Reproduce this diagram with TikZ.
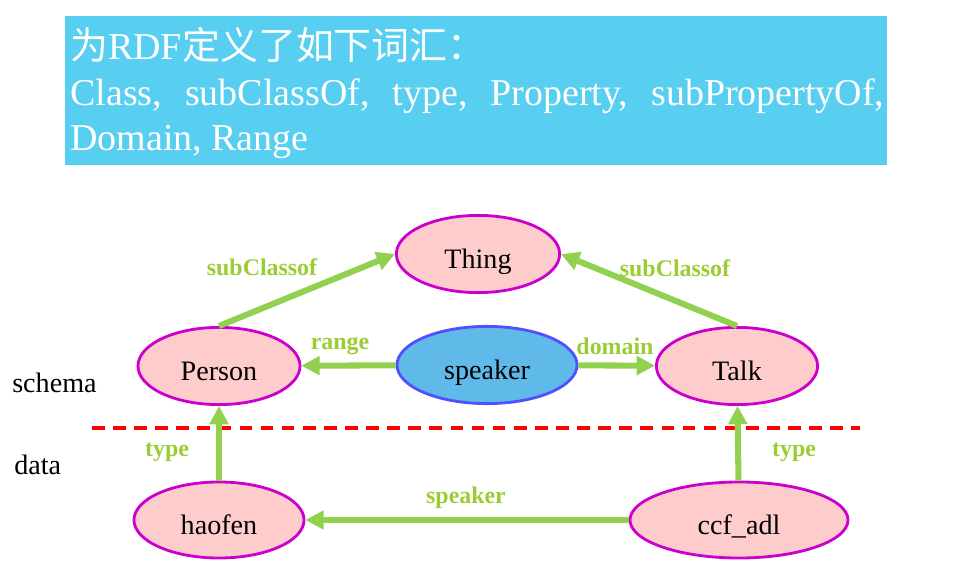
\documentclass[tikz,border=0pt]{standalone}
\usepackage{fontspec}
\setmainfont{Liberation Serif}
\newfontfamily\cjk{Noto Sans CJK SC}
\usetikzlibrary{shapes.geometric,arrows.meta}
\definecolor{BoxBlue}{RGB}{88,206,240}
\definecolor{ClsPink}{RGB}{255,204,204}
\definecolor{ClsEdge}{RGB}{204,0,204}
\definecolor{PropBlue}{RGB}{95,186,234}
\definecolor{PropEdge}{RGB}{80,80,255}
\definecolor{ArrGreen}{RGB}{146,208,80}
\definecolor{LblGreen}{RGB}{154,205,50}
\definecolor{LineRed}{RGB}{255,0,0}

\begin{document}
\begin{tikzpicture}[x=0.025cm,y=-0.025cm,
  cls/.style={ellipse,draw=ClsEdge,fill=ClsPink,line width=2pt,inner sep=0pt,
              text height=20pt,text depth=0pt,
              minimum height=1.93cm,font=\fontsize{20}{24}\selectfont},
  prop/.style={cls,draw=PropEdge,fill=PropBlue},
  arr/.style={-{Triangle[length=13pt,width=13pt]},line width=4.3pt,ArrGreen},
  lbl/.style={text=LblGreen,inner sep=1pt,font=\fontsize{17}{20}\selectfont\bfseries},
  ttl/.style={anchor=base west,text=white,inner sep=0pt,font=\fontsize{27}{32}\selectfont},
  side/.style={anchor=base west,inner sep=0pt,font=\fontsize{20}{24}\selectfont},
]
\useasboundingbox (0,0) rectangle (958,570);
\node[fill=BoxBlue,minimum width=20.55cm,minimum height=3.725cm,inner sep=0pt] (vocab) at (476,90.5) {};
\node[ttl] (line1) at (70,60) {{\cjk 为}RDF{\cjk 定义了如下词汇：}};
\node[ttl] (line2) at (70,106)
  {\makebox[20.35cm][s]{Class, subClassOf, type, Property, subPropertyOf,}};
\node[ttl] (line3) at (70,151) {Domain, Range};

\node[cls,minimum width=4.08cm] (thing) at (478,254) {Thing};
\node[cls,minimum width=4.05cm] (person) at (219,366) {Person};
\node[prop,minimum width=4.5cm] (speaker) at (487,365) {speaker};
\node[cls,minimum width=4.03cm] (talk) at (737,366) {Talk};
\node[cls,minimum width=4.25cm,minimum height=1.9cm] (haofen) at (219,520) {haofen};
\node[cls,minimum width=5.45cm,minimum height=1.9cm] (ccf) at (739,520) {ccf\_adl};

\node[side] (schema) at (12,392) {schema};
\node[side] (data) at (14,474) {data};
\draw[LineRed,line width=2.2pt,dash pattern=on 9pt off 6pt] (92,428) -- (860,428);

\draw[arr] (person.north) -- (thing.west);
\draw[arr] (talk.north) -- (thing.east);
\draw[arr] (speaker) -- (person);
\draw[arr] (speaker) -- (talk);
\draw[arr] (haofen) -- (person);
\draw[arr] (ccf) -- (talk);
\draw[arr] (ccf) -- (haofen);

\node[lbl] (sub1) at (262,267) {subClassof};
\node[lbl] (sub2) at (675,268) {subClassof};
\node[lbl] (rng) at (340,346) {range};
\node[lbl] (dom) at (615,346) {domain};
\node[lbl] (type1) at (167,452) {type};
\node[lbl] (type2) at (794,452) {type};
\node[lbl] (spk) at (466,498) {speaker};
\end{tikzpicture}
\end{document}
